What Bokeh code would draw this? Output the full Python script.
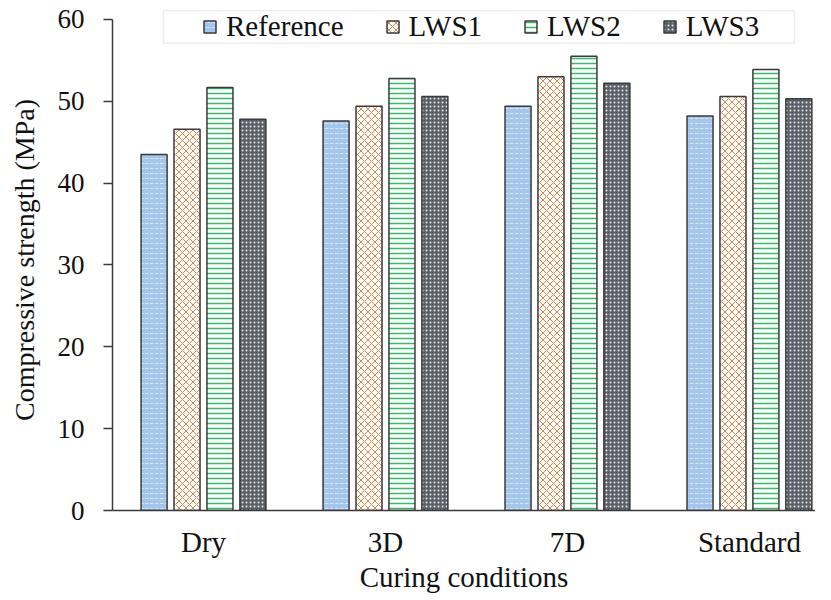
from bokeh.plotting import figure
from bokeh.models import (ColumnDataSource, Legend, LegendItem, Range1d,
                          FixedTicker, BoxAnnotation)
from bokeh.embed import file_html
from bokeh.resources import INLINE

# ---- data ----
categories = ["Dry", "3D", "7D", "Standard"]
series_names = ["Reference", "LWS1", "LWS2", "LWS3"]
reference = [43.5, 47.6, 49.4, 48.2]
lws1 = [46.6, 49.4, 53.0, 50.6]
lws2 = [51.7, 52.8, 55.5, 53.9]
lws3 = [47.8, 50.6, 52.2, 50.3]
y_ticks = [0, 10, 20, 30, 40, 50, 60]

series_values = [reference, lws1, lws2, lws3]

# ---- styles ----
FONT = "Liberation Serif"
styles = [
    dict(fill_color="#a4c6ea", hatch_pattern="horizontal_dash", hatch_color="white",
         hatch_alpha=0.55, hatch_scale=5, hatch_weight=1),
    dict(fill_color="white", hatch_pattern="diagonal_cross", hatch_color="#e2782f",
         hatch_alpha=0.9, hatch_scale=7, hatch_weight=1),
    dict(fill_color="white", hatch_pattern="horizontal_line", hatch_color="#1fb35a",
         hatch_alpha=0.9, hatch_scale=5, hatch_weight=1.5),
    dict(fill_color="#5c6068", hatch_pattern="dot", hatch_color="white",
         hatch_alpha=0.85, hatch_scale=4, hatch_weight=1.8),
]

bar_width = 0.143
step = 0.181
n = len(series_names)
offsets = [(i - (n - 1) / 2) * step for i in range(n)]
centers = [i + 0.5 for i in range(len(categories))]

p = figure(frame_width=703, frame_height=501,
           x_range=Range1d(0, 3.863), y_range=Range1d(0, 61.22),
           output_backend="svg", toolbar_location=None,
           min_border_left=112, min_border_right=0,
           min_border_top=9, min_border_bottom=82)

renderers = []
for name, vals, off, st in zip(series_names, series_values, offsets, styles):
    src = ColumnDataSource(dict(x=[c + off for c in centers], top=vals))
    r = p.vbar(x="x", top="top", width=bar_width, bottom=0, source=src,
               line_color="#3a3a3a", line_width=1.5, **st)
    renderers.append((name, r))

# legend frame
box = BoxAnnotation(left=0.280, right=3.747, bottom=57.1, top=61.1,
                    fill_color="white", fill_alpha=1.0,
                    line_color="#bfbfbf", line_width=1.5, level="underlay")
p.add_layout(box)

legend = Legend(items=[LegendItem(label=nm, renderers=[r]) for nm, r in renderers],
                orientation="horizontal", location=(90, 467),
                glyph_width=15, glyph_height=15, label_standoff=9, spacing=41,
                padding=0, margin=0,
                label_text_font=FONT, label_text_font_size="29px",
                label_text_color="#111111",
                border_line_alpha=0, background_fill_alpha=0)
p.add_layout(legend)

# axes
p.xaxis.ticker = FixedTicker(ticks=centers)
p.xaxis.major_label_overrides = {c: lab for c, lab in zip(centers, categories)}
p.xaxis.major_tick_line_color = None
p.xaxis.minor_tick_line_color = None
p.xaxis.axis_line_color = "#3a3a3a"
p.xaxis.axis_line_width = 1.5
p.xaxis.major_label_text_font = FONT
p.xaxis.major_label_text_font_size = "29px"
p.xaxis.major_label_text_color = "#111111"
p.xaxis.major_label_standoff = 9
p.xaxis.axis_label = "Curing conditions"
p.xaxis.axis_label_text_font = FONT
p.xaxis.axis_label_text_font_size = "29px"
p.xaxis.axis_label_text_font_style = "normal"
p.xaxis.axis_label_text_color = "#111111"
p.xaxis.axis_label_standoff = 0

p.yaxis.ticker = FixedTicker(ticks=y_ticks)
p.yaxis.bounds = (0, 60)
p.yaxis.minor_tick_line_color = None
p.yaxis.major_tick_in = 0
p.yaxis.major_tick_out = 9
p.yaxis.major_tick_line_color = "#3a3a3a"
p.yaxis.major_tick_line_width = 1.5
p.yaxis.axis_line_color = "#3a3a3a"
p.yaxis.axis_line_width = 1.5
p.yaxis.major_label_text_font = FONT
p.yaxis.major_label_text_font_size = "27px"
p.yaxis.major_label_text_color = "#111111"
p.yaxis.major_label_standoff = 19
p.yaxis.axis_label = "Compressive strength (MPa)"
p.yaxis.axis_label_text_font = FONT
p.yaxis.axis_label_text_font_size = "28px"
p.yaxis.axis_label_text_font_style = "normal"
p.yaxis.axis_label_text_color = "#111111"
p.yaxis.axis_label_standoff = 15

p.xgrid.visible = False
p.ygrid.visible = False
p.outline_line_color = None

open("out.html", "w").write(file_html(p, INLINE))
